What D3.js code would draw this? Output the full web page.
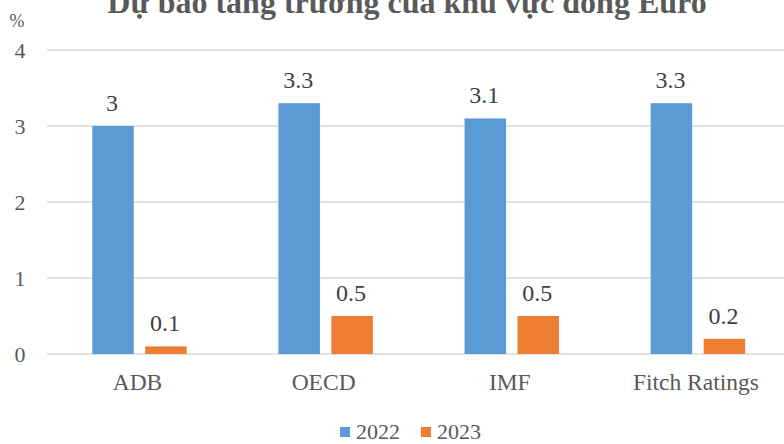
<!DOCTYPE html>
<html><head><meta charset="utf-8">
<script src="https://cdn.jsdelivr.net/npm/d3@7"></script>
<style>body{margin:0;background:#fff}svg{display:block}svg text{font-family:"Liberation Serif","Times New Roman",serif}</style>
</head><body>
<script>
const categories = ["ADB", "OECD", "IMF", "Fitch Ratings"];
const seriesNames = ["2022", "2023"];
const values2022 = [3, 3.3, 3.1, 3.3];
const values2023 = [0.1, 0.5, 0.5, 0.2];
const yTicks = [0, 1, 2, 3, 4];
const title = "Dự báo tăng trưởng của khu vực đồng Euro";
const unit = "%";
const colors = ["#5B9BD5", "#ED7D31"];

const W = 784, H = 444;
const svg = d3.select("body").append("svg").attr("width", W).attr("height", H);

const x = d3.scaleBand().domain(categories).range([46.4, 791]).paddingInner(0).paddingOuter(0);
const xs = d3.scaleBand().domain(seriesNames).range([0, x.bandwidth()]).paddingInner(0.217).paddingOuter(0.865);
const y = d3.scaleLinear().domain([0, 4]).range([354, 50]);

// gridlines
svg.append("g").selectAll("line").data(yTicks).join("line")
  .attr("x1", 47).attr("x2", W).attr("y1", d => y(d)).attr("y2", d => y(d))
  .attr("stroke", "#d9d9d9").attr("stroke-width", 1.3);

// y axis labels
const yAxis = d3.axisLeft(y).tickValues(yTicks).tickFormat(d3.format("d")).tickSize(0).tickPadding(0);
const gy = svg.append("g").attr("transform", "translate(20,0)").call(yAxis);
gy.select(".domain").remove();
gy.selectAll("text").attr("font-size", 22).attr("fill", "#595959")
  .attr("text-anchor", "middle").attr("dy", "0.35em");

svg.append("text").attr("x", 17).attr("y", 27).attr("text-anchor", "middle")
  .attr("font-size", 18).attr("fill", "#595959").text(unit);

// title (partly clipped by the top edge, as in the reference)
svg.append("text").attr("x", 407).attr("y", 13).attr("text-anchor", "middle")
  .attr("font-size", 32).attr("font-weight", "bold").attr("fill", "#595959").text(title);

const data = categories.map((c, i) => ({c, vals: [values2022[i], values2023[i]]}));
const groups = svg.append("g").selectAll("g").data(data).join("g")
  .attr("transform", d => `translate(${x(d.c)},0)`);
groups.selectAll("rect").data(d => d.vals.map((v, j) => ({v, s: seriesNames[j], j}))).join("rect")
  .attr("x", d => xs(d.s)).attr("width", xs.bandwidth())
  .attr("y", d => y(d.v)).attr("height", d => y(0) - y(d.v))
  .attr("fill", d => colors[d.j]);
groups.selectAll("text.lbl").data(d => d.vals.map((v, j) => ({v, s: seriesNames[j], j}))).join("text")
  .attr("class", "lbl")
  .attr("x", d => xs(d.s) + xs.bandwidth() / 2 - 1).attr("y", d => y(d.v) - 15)
  .attr("text-anchor", "middle").attr("font-size", 24).attr("fill", "#404040")
  .text(d => d.v);

// x axis labels
const xAxis = d3.axisBottom(x).tickSize(0).tickPadding(0);
const gx = svg.append("g").attr("transform", "translate(-2,390)").call(xAxis);
gx.select(".domain").remove();
gx.selectAll("text").attr("font-size", 23.5).attr("fill", "#595959").attr("dy", "0");

// legend
const leg = svg.append("g").attr("transform", "translate(0,431)");
const legX = [340, 421];
seriesNames.forEach((s, i) => {
  leg.append("rect").attr("x", legX[i]).attr("y", -4).attr("width", 10).attr("height", 10).attr("fill", colors[i]);
  leg.append("text").attr("x", legX[i] + 16).attr("y", 0).attr("dy", "0.35em")
    .attr("font-size", 22).attr("fill", "#595959").text(s);
});
</script>
</body></html>
